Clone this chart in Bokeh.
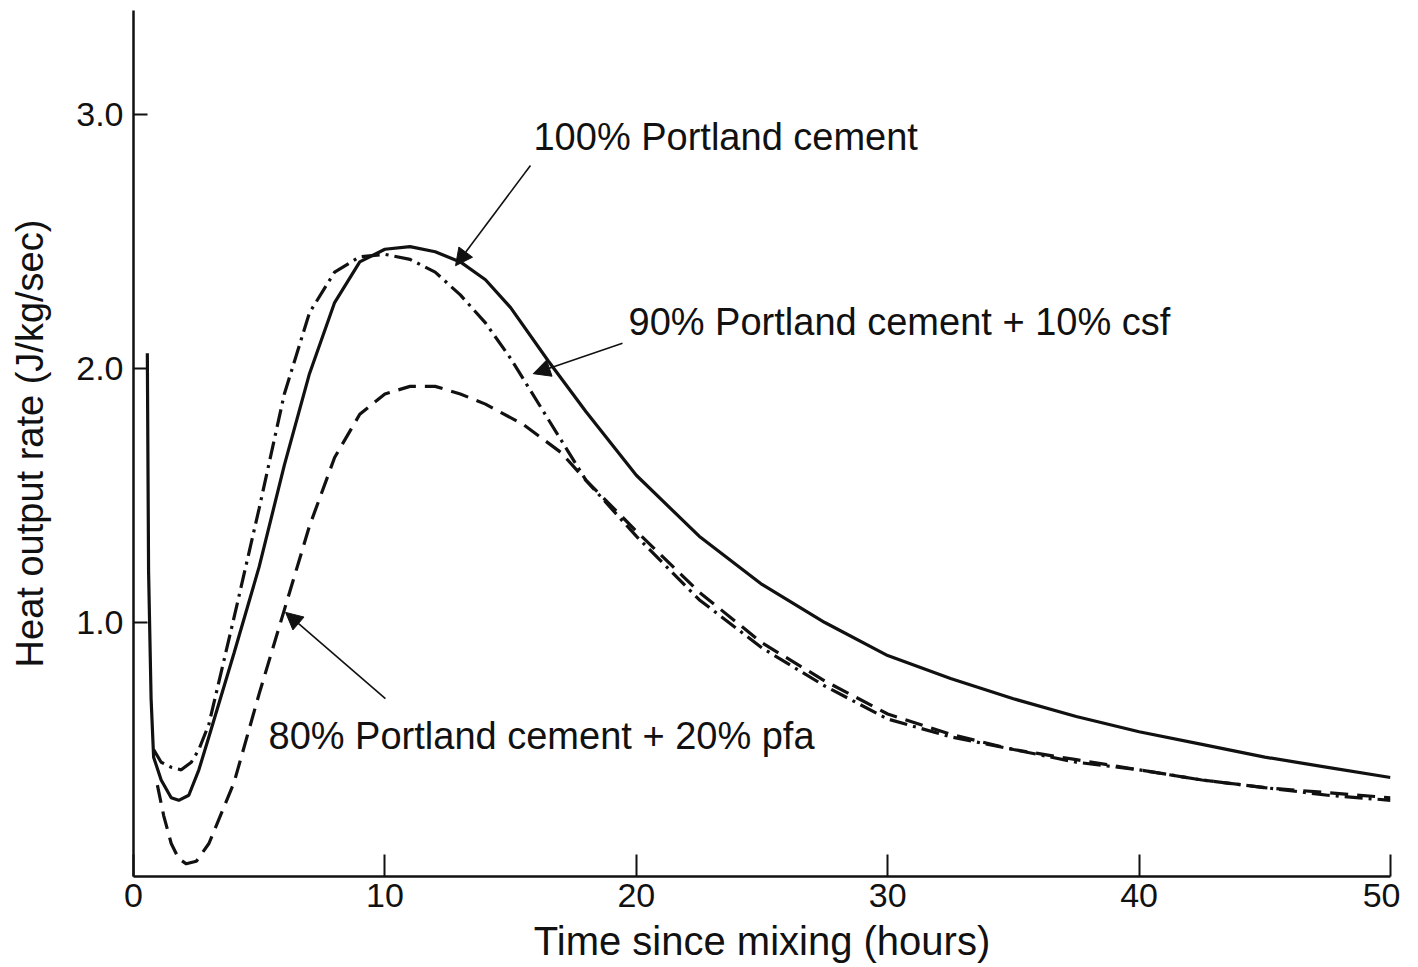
from bokeh.plotting import figure
from bokeh.models import Label, Arrow, NormalHead, Range1d, FixedTicker
from bokeh.embed import file_html
from bokeh.resources import INLINE

# ---- data ----
pc100_hours = [0.55, 0.6, 0.7, 0.8, 1.1, 1.5, 1.8, 2.2, 2.6, 3.0, 4.0, 5.0, 6.0, 7.0, 8.0, 9.0,
               10.0, 11.0, 12.0, 13.0, 14.0, 15.0, 16.5, 18.0, 20.0, 22.5, 25.0, 27.5, 30.0,
               32.5, 35.0, 37.5, 40.0, 42.5, 45.0, 47.5, 50.0]
pc100_rate = [2.06, 1.20, 0.70, 0.47, 0.38, 0.31, 0.30, 0.32, 0.42, 0.55, 0.88, 1.22, 1.62, 1.98,
              2.26, 2.42, 2.47, 2.48, 2.46, 2.42, 2.35, 2.24, 2.03, 1.83, 1.58, 1.34, 1.15, 1.00,
              0.87, 0.78, 0.70, 0.63, 0.57, 0.52, 0.47, 0.43, 0.39]

csf_hours = [0.8, 1.1, 1.5, 1.9, 2.3, 2.6, 3.0, 4.0, 5.0, 6.0, 7.0, 8.0, 9.0, 10.0, 11.0,
             12.0, 13.0, 14.0, 15.0, 16.5, 18.0, 20.0, 22.5, 25.0, 27.5, 30.0, 32.5, 35.0,
             37.5, 40.0, 42.5, 45.0, 47.5, 50.0]
csf_rate = [0.50, 0.45, 0.43, 0.42, 0.45, 0.50, 0.60, 1.02, 1.45, 1.90, 2.22, 2.38, 2.44, 2.45,
            2.43, 2.38, 2.29, 2.18, 2.04, 1.80, 1.56, 1.34, 1.09, 0.90, 0.75, 0.62, 0.55, 0.50,
            0.45, 0.42, 0.38, 0.35, 0.32, 0.30]

pfa_hours = [0.95, 1.2, 1.5, 1.8, 2.1, 2.5, 3.0, 4.0, 5.0, 6.0, 7.0, 8.0, 9.0, 10.0, 11.0,
             12.0, 13.0, 14.0, 15.5, 17.0, 18.0, 20.0, 22.5, 25.0, 27.5, 30.0, 32.5, 35.0,
             37.5, 40.0, 42.5, 45.0, 47.5, 50.0]
pfa_rate = [0.36, 0.24, 0.13, 0.07, 0.05, 0.06, 0.13, 0.37, 0.72, 1.05, 1.38, 1.65, 1.82, 1.90,
            1.93, 1.93, 1.90, 1.86, 1.78, 1.67, 1.56, 1.36, 1.12, 0.92, 0.77, 0.64, 0.56, 0.50,
            0.46, 0.42, 0.38, 0.35, 0.33, 0.31]

x_ticks = [0, 10, 20, 30, 40, 50]
y_ticks = [1, 2, 3]
y_tick_labels = ["1.0", "2.0", "3.0"]

FONT = "Liberation Sans"
INK = "#111111"

p = figure(width=1400, height=966, x_range=Range1d(0, 50), y_range=Range1d(0, 3.41),
           output_backend="svg", toolbar_location=None,
           min_border_left=133, min_border_right=10, min_border_top=10, min_border_bottom=90)
p.outline_line_color = None
p.grid.visible = False
p.background_fill_color = "white"
p.border_fill_color = "white"

for ax in (p.xaxis[0], p.yaxis[0]):
    ax.axis_line_width = 2.5
    ax.axis_line_color = INK
    ax.major_tick_line_width = 2
    ax.major_tick_line_color = INK
    ax.major_tick_out = 0
    ax.minor_tick_line_color = None
    ax.major_label_text_font = FONT
    ax.major_label_text_font_size = "34px"
    ax.major_label_text_color = INK
    ax.axis_label_text_font = FONT
    ax.axis_label_text_font_style = "normal"
    ax.axis_label_text_color = INK

p.xaxis[0].ticker = FixedTicker(ticks=x_ticks)
p.xaxis[0].major_tick_in = 22
p.xaxis[0].major_label_standoff = 7
p.xaxis[0].axis_label = "Time since mixing (hours)"
p.xaxis[0].axis_label_text_font_size = "40px"
p.xaxis[0].axis_label_standoff = 9

p.yaxis[0].ticker = FixedTicker(ticks=y_ticks)
p.yaxis[0].major_label_overrides = {t: s for t, s in zip(y_ticks, y_tick_labels)}
p.yaxis[0].major_tick_in = 14
p.yaxis[0].major_label_standoff = 10
p.yaxis[0].axis_label = "Heat output rate (J/kg/sec)"
p.yaxis[0].axis_label_text_font_size = "38px"
p.yaxis[0].axis_label_standoff = 22

p.line(pc100_hours, pc100_rate, line_color=INK, line_width=3.2)
p.line(csf_hours, csf_rate, line_color=INK, line_width=3.2, line_dash="18 6 3 6")
p.line(pfa_hours, pfa_rate, line_color=INK, line_width=3.2, line_dash="18 9")

# annotations
p.add_layout(Label(x=15.91, y=2.91, text="100% Portland cement", text_font=FONT,
                   text_font_size="38px", text_color=INK, text_baseline="alphabetic"))
p.add_layout(Label(x=19.69, y=2.185, text="90% Portland cement + 10% csf", text_font=FONT,
                   text_font_size="38px", text_color=INK, text_baseline="alphabetic"))
p.add_layout(Label(x=5.37, y=0.555, text="80% Portland cement + 20% pfa", text_font=FONT,
                   text_font_size="38px", text_color=INK, text_baseline="alphabetic"))

def arrow(x0, y0, x1, y1):
    p.add_layout(Arrow(end=NormalHead(size=17, fill_color=INK, line_color=INK, line_width=1),
                       x_start=x0, y_start=y0, x_end=x1, y_end=y1,
                       line_color=INK, line_width=1.6))

arrow(15.79, 2.80, 12.81, 2.405)
arrow(19.45, 2.10, 15.9, 1.98)
arrow(10.02, 0.70, 6.05, 1.04)

open("out.html", "w").write(file_html(p, INLINE))
